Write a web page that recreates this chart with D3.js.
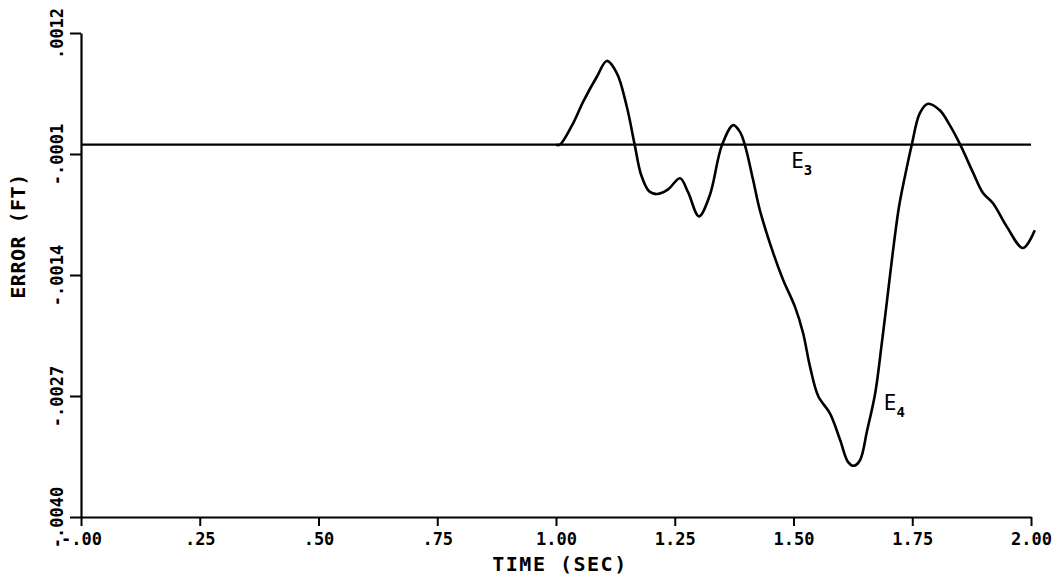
<!DOCTYPE html>
<html>
<head>
<meta charset="utf-8">
<script src="https://cdn.jsdelivr.net/npm/d3@7/dist/d3.min.js"></script>
<style>
  html, body { margin: 0; padding: 0; background: #fff; }
  svg { display: block; }
  text { font-family: "DejaVu Sans Mono", monospace; fill: #000; font-weight: bold; }
  text.curve-label { font-weight: normal; }
</style>
</head>
<body>
<svg id="chart" width="1062" height="580"></svg>
<script>
// Time axis ticks (seconds) and their printed labels
const xTickValues = [0, 0.25, 0.5, 0.75, 1.0, 1.25, 1.5, 1.75, 2.0];
const xTickLabels = ["-.00", ".25", ".50", ".75", "1.00", "1.25", "1.50", "1.75", "2.00"];

// Error axis ticks (ft) and their printed labels
const yTickValues = [0.0012, -0.0001, -0.0014, -0.0027, -0.0040];
const yTickLabels = [".0012", "-.0001", "-.0014", "-.0027", "-.0040"];

// E3: tracking error stays at zero over the run
const timeE3 = [0.0, 2.0];
const errorE3 = [0.0, 0.0];

// E4: tracking error, starts deviating at t = 1.00 s
const timeE4 = [1.000, 1.008, 1.036, 1.057, 1.086, 1.107, 1.128, 1.149, 1.166, 1.179,
                1.196, 1.213, 1.236, 1.261, 1.278, 1.301, 1.324, 1.349, 1.373, 1.387,
                1.398, 1.415, 1.429, 1.457, 1.478, 1.503, 1.520, 1.535, 1.552, 1.577,
                1.598, 1.615, 1.627, 1.640, 1.655, 1.672, 1.685, 1.697, 1.709, 1.722,
                1.735, 1.749, 1.766, 1.783, 1.808, 1.829, 1.851, 1.878, 1.899, 1.920,
                1.949, 1.983, 2.008];
const errorE4 = [0.00000, 0.00000, 0.00023, 0.00046, 0.00073, 0.00090, 0.00077, 0.00041, -0.00001, -0.00032,
                 -0.00050, -0.00053, -0.00048, -0.00036, -0.00051, -0.00077, -0.00054, -0.00001, 0.00021, 0.00014,
                 -0.00001, -0.00038, -0.00070, -0.00116, -0.00145, -0.00174, -0.00202, -0.00239, -0.00270, -0.00289,
                 -0.00317, -0.00341, -0.00345, -0.00339, -0.00307, -0.00267, -0.00217, -0.00167, -0.00116, -0.00067,
                 -0.00033, 0.00000, 0.00034, 0.00044, 0.00037, 0.00021, 0.00000, -0.00030, -0.00052, -0.00063,
                 -0.00088, -0.00111, -0.00092];

const svg = d3.select("#chart");

const x = d3.scaleLinear().domain([0, 2.0]).range([81, 1031]);
const y = d3.scaleLinear().domain([-0.0040, 0.0012]).range([517, 33]);

// Axes
const xAxis = d3.axisBottom(x)
  .tickValues(xTickValues)
  .tickSize(9)
  .tickSizeOuter(0)
  .tickFormat((d, i) => xTickLabels[i]);

const yAxis = d3.axisLeft(y)
  .tickValues(yTickValues)
  .tickSize(11)
  .tickSizeOuter(0)
  .tickFormat((d, i) => yTickLabels[i]);

const gx = svg.append("g").attr("transform", `translate(0,${y(-0.0040)})`).call(xAxis);
gx.select(".domain").attr("stroke", "#000").attr("stroke-width", 2.2);
gx.selectAll(".tick line").attr("stroke", "#000").attr("stroke-width", 2);
gx.selectAll(".tick text")
  .attr("y", 28)
  .attr("dy", 0)
  .attr("font-size", 17)
  .attr("font-family", "DejaVu Sans Mono")
  .attr("fill", "#000");

const gy = svg.append("g").attr("transform", `translate(${x(0)},0)`).call(yAxis);
gy.select(".domain").attr("stroke", "#000").attr("stroke-width", 2.2);
gy.selectAll(".tick line").attr("stroke", "#000").attr("stroke-width", 2);
gy.selectAll(".tick text")
  .attr("x", null)
  .attr("dy", 0)
  .attr("text-anchor", "middle")
  .attr("transform", "translate(-18,0) rotate(-90)")
  .attr("font-size", 17)
  .attr("font-family", "DejaVu Sans Mono")
  .attr("fill", "#000");

// Axis titles
svg.append("text")
  .attr("x", 560).attr("y", 571)
  .attr("text-anchor", "middle")
  .attr("font-size", 20)
  .attr("letter-spacing", 1.5)
  .text("TIME (SEC)");

svg.append("text")
  .attr("transform", "translate(25,236) rotate(-90)")
  .attr("text-anchor", "middle")
  .attr("font-size", 20)
  .attr("letter-spacing", 0.5)
  .text("ERROR (FT)");

// Curves
const line = d3.line()
  .x(d => x(d[0]))
  .y(d => y(d[1]));

svg.append("path")
  .datum(d3.zip(timeE3, errorE3))
  .attr("d", line)
  .attr("fill", "none")
  .attr("stroke", "#000")
  .attr("stroke-width", 2.2);

svg.append("path")
  .datum(d3.zip(timeE4, errorE4))
  .attr("d", line.curve(d3.curveCatmullRom.alpha(0.5)))
  .attr("fill", "none")
  .attr("stroke", "#000")
  .attr("stroke-width", 2.6)
  .attr("stroke-linejoin", "round");

// Curve labels with subscripts
function curveLabel(px, py, main, sub) {
  const t = svg.append("text")
    .attr("class", "curve-label")
    .attr("x", px).attr("y", py)
    .attr("font-size", 21);
  t.append("tspan").text(main);
  t.append("tspan").attr("font-size", 14).style("font-weight", "bold").attr("dy", 7).text(sub);
}
curveLabel(x(1.495), y(-0.00025), "E", "3");
curveLabel(x(1.690), y(-0.00285), "E", "4");
</script>
</body>
</html>
